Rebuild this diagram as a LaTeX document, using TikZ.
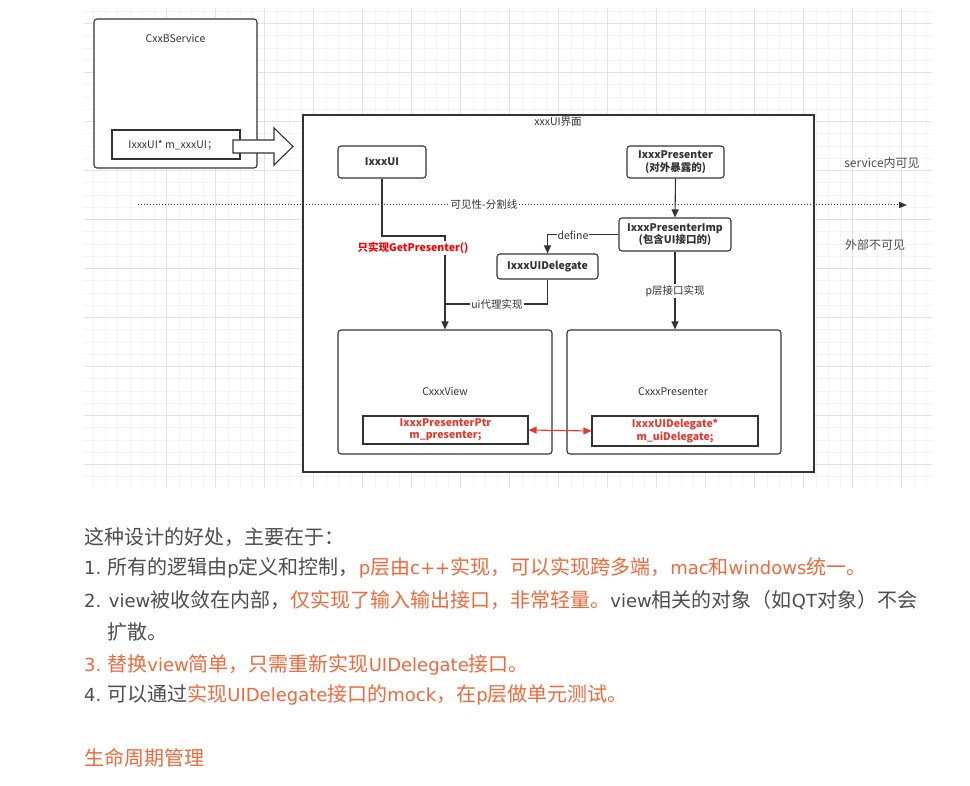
\documentclass[tikz,border=0pt]{standalone}
\usepackage{fontspec}
\setmainfont{Noto Sans CJK SC}
\newfontfamily\latf{DejaVu Sans}
\newcommand{\lt}[1]{{\latf\fontsize{18}{22}\selectfont #1}}
\usetikzlibrary{arrows.meta,calc}
\definecolor{ink}{HTML}{333333}
\definecolor{txt}{HTML}{4D4D4D}
\definecolor{org}{HTML}{EE6A3C}
\definecolor{redd}{HTML}{E8392E}
\definecolor{gminor}{HTML}{F3F3F3}
\definecolor{gmajor}{HTML}{E2E2E2}
\tikzset{
  rbox/.style={draw=ink, line width=1.1pt, rounded corners=3pt, fill=white, inner sep=0pt},
  sbox/.style={draw=ink, line width=1.1pt, fill=white, inner sep=0pt},
  dtext/.style={font=\fontsize{10.5}{12.5}\selectfont, text=ink, align=center},
  btext/.style={font=\fontsize{10.5}{12.5}\selectfont\bfseries, text=ink, align=center},
  rtext/.style={font=\fontsize{10.5}{12.5}\selectfont\bfseries, text=redd, align=center},
  conn/.style={draw=ink, line width=1.1pt, -{Triangle[length=8pt,width=7pt]}},
  plain/.style={draw=ink, line width=1.1pt},
  lbl/.style={fill=white, inner sep=1pt, font=\fontsize{10.5}{12.5}\selectfont, text=ink},
  para/.style={anchor=west, inner sep=0pt, font=\fontsize{20}{22}\selectfont, text=txt},
}
\begin{document}
\begin{tikzpicture}[x=1pt,y=-1pt]
\useasboundingbox (0,0) rectangle (970,786);
\fill[white] (0,0) rectangle (970,786);
% grid
\foreach \i in {0,...,69} {
  \pgfmathsetmacro{\gx}{93.2+12.25*\i}
  \ifdim \gx pt<932pt \draw[gminor, line width=0.6pt] (\gx,8) -- (\gx,488); \fi
}
\foreach \i in {0,...,39} {
  \pgfmathsetmacro{\gy}{11.25+12.25*\i}
  \ifdim \gy pt<488pt \draw[gminor, line width=0.6pt] (84,\gy) -- (932,\gy); \fi
}
\foreach \i in {0,...,15} {
  \pgfmathsetmacro{\gx}{166.7+49*\i}
  \ifdim \gx pt<932pt \draw[gmajor, line width=0.6pt] (\gx,8) -- (\gx,488); \fi
}
\foreach \i in {0,...,9} {
  \pgfmathsetmacro{\gy}{23+49*\i}
  \ifdim \gy pt<488pt \draw[gmajor, line width=0.6pt] (84,\gy) -- (932,\gy); \fi
}

% CxxBService
\node[rbox, minimum width=163pt, minimum height=149pt] (svc) at (175.5,93.5) {};
\node[dtext] (svclbl) at (175.5,39) {CxxBService};
\node[sbox, minimum width=128pt, minimum height=29pt, rounded corners=0pt] (svcui) at (176,144.5) {};
\node[dtext] (svcuitxt) at (173,145.5) {IxxxUI* m\_xxxUI；};
% hollow arrow
\draw[draw=ink, line width=1.1pt, fill=white] (233,140) -- (274,140) -- (274,128) -- (293,146.5) -- (274,165) -- (274,153) -- (233,153) -- cycle;

% xxxUI frame
\node[sbox, minimum width=511pt, minimum height=357pt] (frame) at (558.5,293.5) {};
\node[dtext] (framelbl) at (558,122) {xxxUI界面};

% dotted visibility line
\coordinate (dl) at (138,205);
\coordinate (dr) at (907,205);
\draw[draw=ink, line width=1pt, dash pattern=on 1pt off 2pt, -{Triangle[length=8pt,width=6pt]}] (dl) -- (dr);
\node[lbl] (divlbl) at (484,205) {可见性-分割线};

% nodes
\node[rbox, minimum width=88pt, minimum height=32pt, btext] (ui) at (382,162) {IxxxUI};
\node[rbox, minimum width=97pt, minimum height=32pt, btext] (pres) at (675.5,162) {IxxxPresenter\\(对外暴露的)};
\node[rbox, minimum width=112pt, minimum height=33pt, btext] (imp) at (675,234.5) {IxxxPresenterImp\\(包含UI接口的)};
\node[rbox, minimum width=101pt, minimum height=25pt, btext] (dlg) at (547.5,266.5) {IxxxUIDelegate};

\node[rbox, minimum width=214pt, minimum height=124pt] (view) at (445,392) {};
\node[dtext] (viewlbl) at (445,392) {CxxxView};
\node[sbox, minimum width=165pt, minimum height=28pt, rtext] (viewin) at (445.5,430) {IxxxPresenterPtr\\m\_presenter;};

\node[rbox, minimum width=214pt, minimum height=124pt] (cpres) at (674,392) {};
\node[dtext] (cpreslbl) at (673,392) {CxxxPresenter};
\node[sbox, minimum width=166pt, minimum height=30pt, rtext] (cpresin) at (675,431) {IxxxUIDelegate*\\m\_uiDelegate;};

% connectors
\draw[conn] (pres.south) -- (imp.north);
\draw[conn] (imp.west) -| (dlg.north);
\node[lbl] (deflbl) at (573,235) {define};
\draw[conn] (imp.south) -- (imp.south |- cpres.north);
\node[lbl] (plbl) at (675,291) {p层接口实现};

\coordinate (bend1) at (445,236);
\coordinate (join) at (445,304);
\draw[conn] (ui.south) |- (bend1) -- (view.north);
\node[fill=white, inner sep=1pt, font=\fontsize{10.5}{12.5}\selectfont\bfseries, text=red] (getlbl) at (413,248) {只实现GetPresenter()};
\draw[plain] (dlg.south) |- (join);
\node[lbl] (uilbl) at (497,304) {ui代理实现};

\draw[draw=redd, line width=1.1pt, {Triangle[length=8pt,width=7pt]}-{Triangle[length=8pt,width=7pt]}] (viewin.east) -- (cpresin.west);

% right labels
\node[font=\fontsize{12}{14}\selectfont, text=txt] (vis) at (882,163) {service内可见};
\node[font=\fontsize{12}{14}\selectfont, text=txt] (invis) at (875,245) {外部不可见};

% paragraph text
\node[para] (t0) at (84,537) {这种设计的好处，主要在于：};
\node[para] (t1) at (84,568) {\lt{1.} 所有的逻辑由\lt{p}定义和控制，\textcolor{org}{\lt{p}层由\lt{c++}实现，可以实现跨多端，\lt{mac}和\lt{windows}统一。}};
\node[para] (t2) at (84,600) {\lt{2. view}被收敛在内部，\textcolor{org}{仅实现了输入输出接口，非常轻量。}\lt{view}相关的对象（如\lt{QT}对象）不会};
\node[para] (t3) at (107,632) {扩散。};
\node[para, text=org] (t4) at (84,665) {\lt{3.} 替换\lt{view}简单，只需重新实现\lt{UIDelegate}接口。};
\node[para] (t5) at (84,695) {\lt{4.} 可以通过\textcolor{org}{实现\lt{UIDelegate}接口的\lt{mock}，在\lt{p}层做单元测试。}};
\node[para, text=org] (t6) at (84,758) {生命周期管理};
\end{tikzpicture}
\end{document}
